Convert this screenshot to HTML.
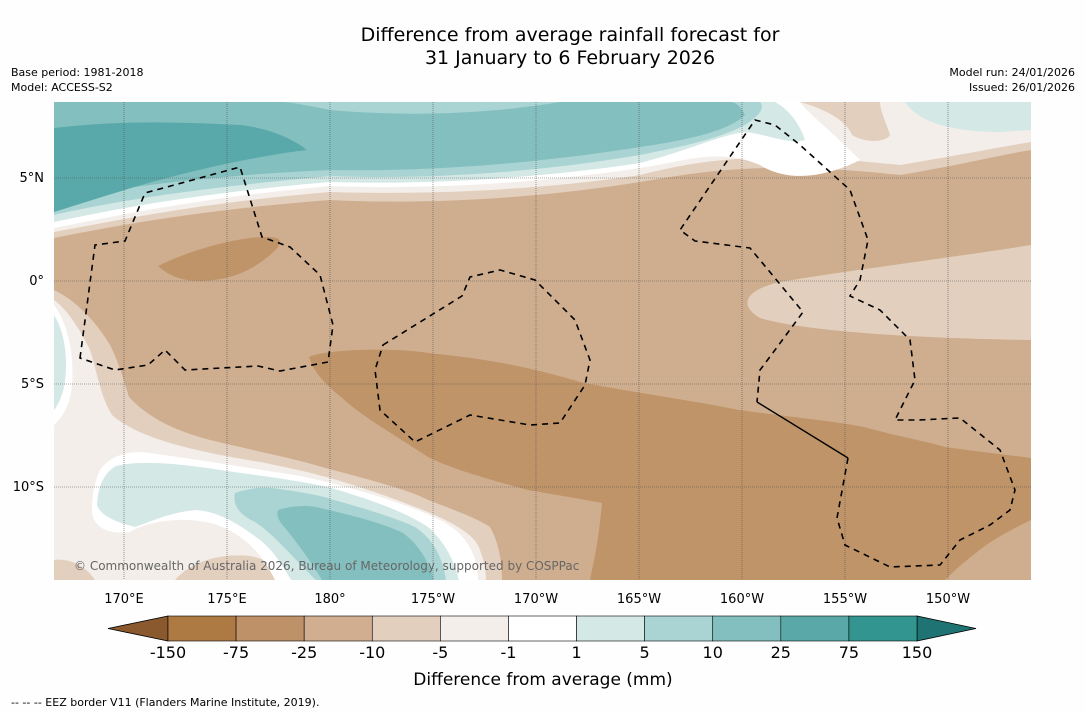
<!DOCTYPE html>
<html><head><meta charset="utf-8">
<style>
body{margin:0;background:#fff;width:1085px;height:713px;overflow:hidden;font-family:"DejaVu Sans","Liberation Sans",sans-serif;}
svg{display:block}
</style></head>
<body>
<svg id="chart" width="1085" height="713" xmlns="http://www.w3.org/2000/svg" font-family="DejaVu Sans, Liberation Sans, sans-serif">
<rect width="1085" height="713" fill="#fefefe"/>
<text x="570" y="41" font-size="19" text-anchor="middle" fill="#000">Difference from average rainfall forecast for</text>
<text x="570" y="64" font-size="19" text-anchor="middle" fill="#000">31 January to 6 February 2026</text>
<text x="11" y="76" font-size="11">Base period: 1981-2018</text>
<text x="11" y="91" font-size="11">Model: ACCESS-S2</text>
<text x="1075" y="76" font-size="11" text-anchor="end">Model run: 24/01/2026</text>
<text x="1075" y="91" font-size="11" text-anchor="end">Issued: 26/01/2026</text>

<defs><clipPath id="mapclip"><rect x="54" y="102" width="977" height="478"/></clipPath></defs>
<g clip-path="url(#mapclip)">
<rect x="54" y="102" width="977" height="478" fill="#cfae8f"/>
<path d="M54 102 L54 238 C120 225 200 210 330 200 C430 205 540 198 640 182 C700 172 760 160 900 175 C960 165 1000 155 1031 150 L1031 102 Z" fill="#e3cfbe"/>
<path d="M54 102 L54 232 C120 220 200 203 330 192 C430 195 540 190 640 175 C700 160 760 150 900 165 C960 155 1000 147 1031 142 L1031 102 Z" fill="#f3eee9"/>
<path d="M54 102 L54 228 C120 215 200 198 330 186 C430 190 540 183 640 168 C690 160 720 148 760 165 C800 190 850 165 860 160 C830 130 810 115 800 102 Z" fill="#ffffff"/>
<path d="M54 102 L54 222 C120 208 200 193 330 182 C430 185 540 178 640 163 C690 150 720 135 745 132 C770 135 790 145 805 140 C800 125 790 110 775 102 Z" fill="#d4e8e6"/>
<path d="M54 102 L54 215 C120 200 200 188 330 176 C430 180 540 172 640 155 C690 145 720 138 745 125 C760 115 765 108 760 102 Z" fill="#a9d4d3"/>
<path d="M54 102 L54 200 C120 188 200 176 330 170 C430 172 540 163 640 147 C690 140 730 130 745 115 C740 105 735 102 730 102 L560 102 C500 112 420 118 330 110 C300 104 290 102 280 102 Z" fill="#84bfbf"/>
<path d="M54 212 C100 198 150 180 230 163 C270 155 290 152 307 150 C295 140 270 128 240 125 C180 122 120 120 54 128 Z" fill="#5aa9aa"/>
<path d="M800 102 C835 112 848 125 852 135 C865 143 885 143 890 135 C885 120 880 110 880 102 Z" fill="#e3cfbe"/>
<path d="M905 102 C920 125 960 132 1000 132 L1031 130 L1031 102 Z" fill="#d4e8e6"/>
<path d="M1031 245 C950 258 850 270 780 282 C745 290 738 305 760 318 C800 330 900 338 1031 340 Z" fill="#e3cfbe"/>
<path d="M158 266 C190 250 240 236 270 237 C285 238 282 245 270 255 C250 272 230 280 200 281 C180 281 168 275 158 266 Z" fill="#c09469"/>
<path d="M309 357 C330 348 400 348 428 353 C500 360 540 370 584 383 C650 395 700 402 739 410 C800 418 840 422 864 427 C900 437 930 442 945 447 C980 452 1010 455 1031 458 L1031 520 C1000 535 985 545 976 553 C960 565 950 575 945 580 L590 580 C594 560 598 545 602 503 C570 497 545 493 528 490 C480 477 450 468 428 457 C390 432 360 415 341 397 C320 380 312 368 309 357 Z" fill="#c09469"/>
<path d="M54 290 C75 300 95 320 110 345 C120 365 125 385 129 397 C150 420 180 432 210 440 C260 452 300 460 322 467 C370 480 410 490 428 500 C460 512 480 520 490 527 C500 545 502 565 502 580 L54 580 Z" fill="#e3cfbe"/>
<path d="M54 300 C68 310 80 330 90 350 C98 375 100 395 112 415 C140 440 200 452 260 462 C300 470 340 478 410 505 C450 520 470 532 478 545 C484 560 486 570 486 580 L54 580 Z" fill="#f3eee9"/>
<path d="M175 580 C190 562 220 553 250 556 C270 560 282 570 288 580 Z" fill="#e3cfbe"/>
<path d="M54 580 L54 560 C68 558 85 565 95 580 Z" fill="#e3cfbe"/>
<path d="M54 305 C62 315 70 335 72 360 C74 390 70 410 54 425 Z" fill="#ffffff"/>
<path d="M54 315 C62 328 66 345 66 365 C66 385 62 400 54 410 Z" fill="#d4e8e6"/>
<path d="M100 470 C110 455 130 450 150 453 C200 460 250 468 300 476 C350 486 410 505 440 520 C470 535 478 560 478 580 L275 580 C265 560 250 538 220 526 C190 515 150 520 130 532 C110 535 92 528 92 510 C92 495 95 480 100 470 Z" fill="#ffffff"/>
<path d="M116 466 C150 458 200 467 241 473 C280 478 310 483 328 487 C380 502 410 515 428 527 C448 545 455 565 459 580 L291 580 C280 560 270 548 260 540 C240 525 220 512 197 510 C170 512 150 522 135 527 C115 522 100 515 97 505 C98 485 105 472 116 466 Z" fill="#d4e8e6"/>
<path d="M235 493 C250 488 262 487 272 488 C300 492 320 495 334 500 C370 510 395 518 415 527 C435 540 443 560 446 580 L316 580 C295 560 275 535 255 522 C240 515 232 505 235 493 Z" fill="#a9d4d3"/>
<path d="M278 510 C290 506 305 505 316 507 C350 515 380 522 403 533 C420 545 430 565 434 580 L322 580 C310 560 295 540 285 528 C278 520 276 515 278 510 Z" fill="#84bfbf"/>
<g id="grid" stroke="#555" stroke-width="0.6" stroke-dasharray="1 1"></g>
<g fill="none" stroke="#000" stroke-width="1.6" stroke-dasharray="6 5">
<path d="M80 358 L95 245 L125 241 L145 193 L240 167 L262 237 L290 247 L320 275 L333 325 L328 362 L280 371 L258 366 L185 370 L165 350 L148 365 L115 370 Z"/>
<path d="M383 345 L462 296 L470 277 L500 270 L535 280 L575 320 L590 360 L585 385 L560 423 L530 425 L470 415 L415 442 L380 410 L375 370 Z"/>
<path d="M848 458 L837 518 L845 545 L890 567 L940 565 L960 540 L990 525 L1010 510 L1015 490 L1000 450 L960 418 L918 420 L895 420 L915 380 L910 340 L880 310 L850 296 L860 280 L868 240 L850 190 L800 145 L775 125 L755 120 L680 230 L695 241 L750 248 L803 312 L775 350 L760 370 L757 402"/>
</g>
<path d="M757 402 L848 458" stroke="#000" stroke-width="1.4" fill="none"/>
<text x="74" y="570" font-size="12" fill="#666">© Commonwealth of Australia 2026, Bureau of Meteorology, supported by COSPPac</text>
</g>
<g id="axislabels" font-size="13" fill="#000"></g>
<g id="colorbar"></g>
<text x="543" y="685" font-size="17" text-anchor="middle">Difference from average (mm)</text>
<text x="11" y="706" font-size="11">--  --  -- EEZ border V11 (Flanders Marine Institute, 2019).</text>
</svg>
<script>
const lonTicks=[170,175,180,185,190,195,200,205,210];
const lonLabels=["170°E","175°E","180°","175°W","170°W","165°W","160°W","155°W","150°W"];
const latTicks=[5,0,-5,-10];
const latLabels=["5°N","0°","5°S","10°S"];
const cbLevels=["-150","-75","-25","-10","-5","-1","1","5","10","25","75","150"];
const cbColors=["#ae7a44","#bf9168","#d1ae8f","#e3cfbe","#f3eee9","#ffffff","#d4e8e6","#a9d4d3","#84bfbf","#5aa9a8","#32958f"];
const NS="http://www.w3.org/2000/svg";
const xLon=l=>124+(l-170)*20.6;
const yLat=l=>281-l*20.6;
const grid=document.getElementById('grid');
const ax=document.getElementById('axislabels');
lonTicks.forEach((l,i)=>{
  const ln=document.createElementNS(NS,'line');
  ln.setAttribute('x1',xLon(l));ln.setAttribute('x2',xLon(l));ln.setAttribute('y1',102);ln.setAttribute('y2',580);
  
  
  grid.appendChild(ln);
  const t=document.createElementNS(NS,'text');
  t.setAttribute('x',xLon(l));t.setAttribute('y',603);t.setAttribute('text-anchor','middle');
  t.textContent=lonLabels[i];
  
  
  ax.appendChild(t);
});
latTicks.forEach((l,i)=>{
  const ln=document.createElementNS(NS,'line');
  ln.setAttribute('x1',54);ln.setAttribute('x2',1031);ln.setAttribute('y1',yLat(l));ln.setAttribute('y2',yLat(l));
  
  
  grid.appendChild(ln);
  const t=document.createElementNS(NS,'text');
  t.setAttribute('x',44);t.setAttribute('y',yLat(l)+4);t.setAttribute('text-anchor','end');
  t.textContent=latLabels[i];
  
  
  ax.appendChild(t);
});
const cb=document.getElementById('colorbar');
const x0=168,x1=917,y0=616,h=25,w=(x1-x0)/cbColors.length;
const lt=document.createElementNS(NS,'polygon');
lt.setAttribute('points',`108,${y0+h/2} ${x0},${y0} ${x0},${y0+h}`);
lt.setAttribute('fill','#8a5a2e');lt.setAttribute('stroke','#000');lt.setAttribute('stroke-width','0.8');


cb.appendChild(lt);
const rt=document.createElementNS(NS,'polygon');
rt.setAttribute('points',`976,${y0+h/2} ${x1},${y0} ${x1},${y0+h}`);
rt.setAttribute('fill','#1f7473');rt.setAttribute('stroke','#000');rt.setAttribute('stroke-width','0.8');


cb.appendChild(rt);
cbColors.forEach((c,i)=>{
  const r=document.createElementNS(NS,'rect');
  r.setAttribute('x',x0+i*w);r.setAttribute('y',y0);r.setAttribute('width',w);r.setAttribute('height',h);
  r.setAttribute('fill',c);r.setAttribute('stroke','#000');r.setAttribute('stroke-width','0.6');
  
  
  cb.appendChild(r);
});
cbLevels.forEach((v,i)=>{
  const t=document.createElementNS(NS,'text');
  t.setAttribute('x',x0+i*w);t.setAttribute('y',658);t.setAttribute('text-anchor','middle');t.setAttribute('font-size','16');
  t.textContent=v;
  
  
  cb.appendChild(t);
});
</script>
</body></html>
